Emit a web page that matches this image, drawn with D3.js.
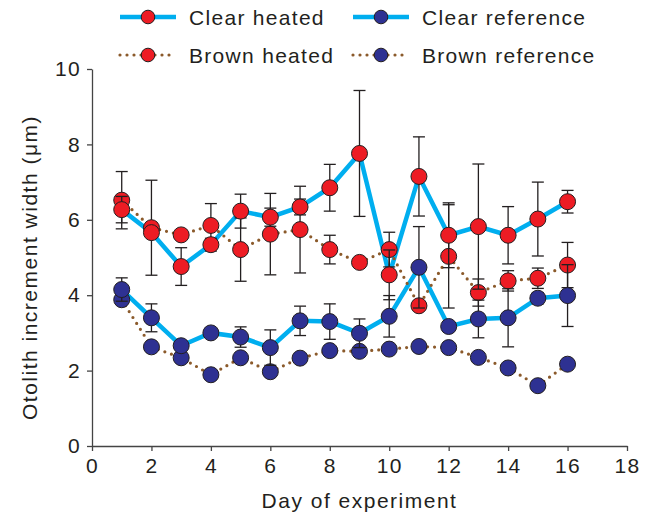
<!DOCTYPE html>
<html>
<head>
<meta charset="utf-8">
<script src="https://cdn.jsdelivr.net/npm/d3@7"></script>
<style>
  body { margin: 0; background: #fff; }
  svg text { font-family: "Liberation Sans", Arial, sans-serif; fill: #231f20; }
</style>
</head>
<body>
<div class="graph"></div>
<script>
const days = [1, 2, 3, 4, 5, 6, 7, 8, 9, 10, 11, 12, 13, 14, 15, 16]

const clearHeated    = [6.27, 5.66, 4.76, 5.34, 6.23, 6.07, 6.34, 6.85, 7.76, 4.54, 7.15, 5.59, 5.82, 5.59, 6.02, 6.48]
const clearHeatedErr = [0.35, 0, 0.5, 0.17, 0.45, 0.24, 0.21, 0.62, 1.67, 0.66, 1.05, 0.86, 1.66, 0.76, 0.98, 0.3]
const brownHeated    = [6.52, 5.79, 5.6, 5.85, 5.21, 5.62, 5.74, 5.21, 4.87, 5.21, 3.72, 5.03, 4.07, 4.38, 4.45, 4.8]
const brownHeatedErr = [0.76, 1.26, 0, 0.58, 0.84, 1.08, 1.15, 0.38, 0, 0.46, 0.1, 1.37, 0.36, 0.27, 0.27, 0.6]
const clearRef       = [4.15, 3.4, 2.66, 3.0, 2.89, 2.61, 3.32, 3.3, 2.99, 3.44, 4.74, 3.17, 3.37, 3.4, 3.92, 3.99]
const clearRefErr    = [0.31, 0.37, 0, 0, 0.27, 0.47, 0.39, 0.47, 0.38, 0.55, 1.08, 0, 0.5, 0.77, 0.15, 0.82]
const brownRef       = [3.88, 2.63, 2.34, 1.89, 2.34, 1.97, 2.33, 2.53, 2.51, 2.57, 2.64, 2.61, 2.35, 2.07, 1.6, 2.17]

const xTicks = [0, 2, 4, 6, 8, 10, 12, 14, 16, 18]
const yTicks = [0, 2, 4, 6, 8, 10]

const width = 660
const height = 515
const margin = ({top: 69, right: 33, bottom: 69, left: 92})

const cyan = "#00aeef"
const brown = "#8b5a2b"
const red = "#ed1c24"
const navy = "#2e3192"

const x = d3.scaleLinear()
    .domain([0, 18])
    .range([margin.left, width - margin.right])
const y = d3.scaleLinear()
    .domain([0, 10])
    .range([height - margin.bottom, margin.top])

const series = [
  {name: "Clear heated", values: clearHeated, err: clearHeatedErr, fill: red, dotted: false},
  {name: "Clear reference", values: clearRef, err: clearRefErr, fill: navy, dotted: false},
  {name: "Brown heated", values: brownHeated, err: brownHeatedErr, fill: red, dotted: true},
  {name: "Brown reference", values: brownRef, err: null, fill: navy, dotted: true}
]

const svg = d3.select(".graph").append("svg")
    .attr("width", width)
    .attr("height", height)

function styleLine(sel, s) {
  if (s.dotted) {
    sel.attr("stroke", brown).attr("stroke-width", 3.2)
      .attr("stroke-dasharray", "0,7").attr("stroke-linecap", "round")
  } else {
    sel.attr("stroke", cyan).attr("stroke-width", 4.5)
  }
  return sel
}

// axes
var xAxis = g => g
    .attr("transform", `translate(0,${height - margin.bottom})`)
    .call(d3.axisBottom(x).tickValues(xTicks).tickSize(5).tickSizeOuter(0).tickPadding(7))
var yAxis = g => g
    .attr("transform", `translate(${margin.left},0)`)
    .call(d3.axisLeft(y).tickValues(yTicks).tickSize(5).tickSizeOuter(0).tickPadding(6))

svg.append("g").call(xAxis)
svg.append("g").call(yAxis)
svg.selectAll(".domain, .tick line").attr("stroke", "#444").attr("stroke-width", 1.3)
svg.selectAll(".tick text")
    .attr("font-size", 21)
    .style("letter-spacing", "1.3px")
    .attr("fill", "#231f20")

svg.append("text")
    .attr("x", (margin.left + width - margin.right) / 2)
    .attr("y", 508)
    .attr("text-anchor", "middle")
    .attr("font-size", 21)
    .style("letter-spacing", "1.5px")
    .text("Day of experiment")

svg.append("text")
    .attr("transform", `translate(37,${(margin.top + height - margin.bottom) / 2 + 10}) rotate(-90)`)
    .attr("text-anchor", "middle")
    .attr("font-size", 21)
    .style("letter-spacing", "1.5px")
    .text("Otolith increment width (\u03bcm)")

// lines
const line = d3.line()
    .x((d, i) => x(days[i]))
    .y(d => y(d))

const plot = svg.append("g")
for (const s of series) {
  plot.append("path")
    .datum(s.values)
    .attr("fill", "none")
    .attr("d", line)
    .call(styleLine, s)
}

// error bars + markers, one series after another
for (const s of [series[2], series[0], series[3], series[1]]) {
  const g = plot.append("g")
  if (s.err) {
    const bars = s.values.map((v, i) => ({day: days[i], v: v, e: s.err[i]})).filter(d => d.e > 0)
    const eb = g.selectAll(".eb").data(bars).join("g")
      .attr("stroke", "#231f20").attr("stroke-width", 1.3)
    eb.append("line")
      .attr("x1", d => x(d.day)).attr("x2", d => x(d.day))
      .attr("y1", d => y(d.v + d.e)).attr("y2", d => y(d.v - d.e))
    eb.append("line")
      .attr("x1", d => x(d.day) - 6).attr("x2", d => x(d.day) + 6)
      .attr("y1", d => y(d.v + d.e)).attr("y2", d => y(d.v + d.e))
    eb.append("line")
      .attr("x1", d => x(d.day) - 6).attr("x2", d => x(d.day) + 6)
      .attr("y1", d => y(d.v - d.e)).attr("y2", d => y(d.v - d.e))
  }
  g.selectAll("circle")
    .data(s.values)
    .join("circle")
    .attr("cx", (d, i) => x(days[i]))
    .attr("cy", d => y(d))
    .attr("r", 8)
    .attr("fill", s.fill)
    .attr("stroke", "#231f20")
    .attr("stroke-width", 1)
}

// legend
const legendPos = [
  {lx: 120, ty: 17},
  {lx: 353, ty: 17},
  {lx: 120, ty: 55},
  {lx: 353, ty: 55}
]
series.forEach((s, i) => {
  const p = legendPos[i]
  const g = svg.append("g").attr("transform", `translate(${p.lx},${p.ty})`)
  g.append("line")
    .attr("x1", 0).attr("x2", 56).attr("y1", 0).attr("y2", 0)
    .call(styleLine, s)
  g.append("circle")
    .attr("cx", 28).attr("cy", 0).attr("r", 6.8)
    .attr("fill", s.fill).attr("stroke", "#231f20").attr("stroke-width", 1)
  g.append("text")
    .attr("x", 69).attr("y", 7.5)
    .attr("font-size", 21)
    .style("letter-spacing", "1.3px")
    .text(s.name)
})
</script>
</body>
</html>
